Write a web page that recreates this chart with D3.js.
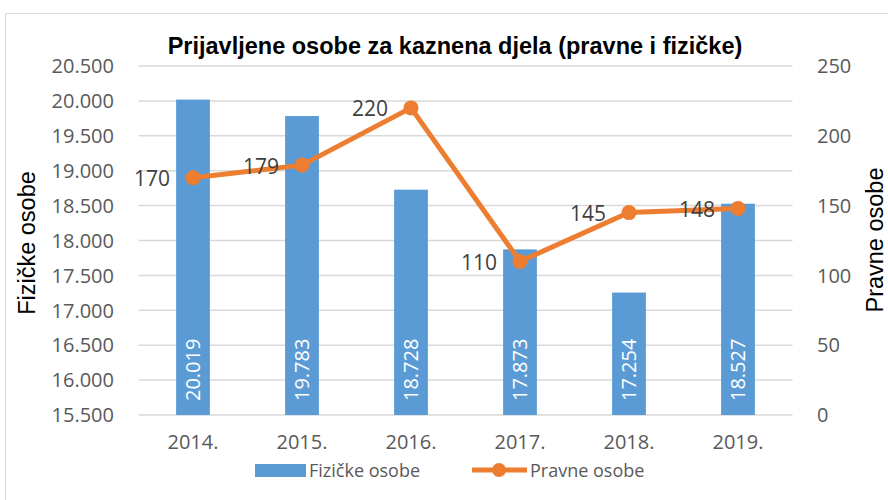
<!DOCTYPE html>
<html>
<head>
<meta charset="utf-8">
<script src="https://cdn.jsdelivr.net/npm/d3@7"></script>
<style>
  body { margin: 0; background: #fff; }
  svg { font-family: "Open Sans", "Liberation Sans", Arial, sans-serif; }
</style>
</head>
<body>
<script>
const years = ["2014.", "2015.", "2016.", "2017.", "2018.", "2019."];
const fizicke = [20019, 19783, 18728, 17873, 17254, 18527];
const pravne = [170, 179, 220, 110, 145, 148];
const leftTicks = [15500, 16000, 16500, 17000, 17500, 18000, 18500, 19000, 19500, 20000, 20500];
const rightTicks = [0, 50, 100, 150, 200, 250];

const w = 888, h = 500;
const m = { top: 66, right: 95.5, bottom: 85, left: 138.5 };

const svg = d3.select("body").append("svg")
    .attr("width", w)
    .attr("height", h);

// chart frame
svg.append("rect")
    .attr("x", 5.5).attr("y", 13.5)
    .attr("width", w + 20).attr("height", h + 20)
    .attr("fill", "none").attr("stroke", "#d9d9d9");

const x = d3.scaleBand().domain(years).range([m.left, w - m.right])
    .paddingInner(0.69).paddingOuter(0.345);
const yL = d3.scaleLinear().domain([15500, 20500]).range([h - m.bottom, m.top]);
const yR = d3.scaleLinear().domain([0, 250]).range([h - m.bottom, m.top]);
const fmt = d3.format(",");
const dot = v => fmt(v).replace(/,/g, ".");
const cx = i => x(years[i]) + x.bandwidth() / 2;

// gridlines
svg.append("g").selectAll("line").data(leftTicks).join("line")
    .attr("x1", m.left).attr("x2", w - m.right)
    .attr("y1", d => yL(d)).attr("y2", d => yL(d))
    .attr("stroke", "#d9d9d9").attr("stroke-width", 1.5);

// left ticks
svg.append("g").selectAll("text").data(leftTicks).join("text")
    .attr("x", 114).attr("y", d => yL(d)).attr("dy", "0.36em")
    .attr("text-anchor", "end").attr("fill", "#595959").attr("font-size", 20)
    .text(d => dot(d));

// right ticks
svg.append("g").selectAll("text").data(rightTicks).join("text")
    .attr("x", 817).attr("y", d => yR(d)).attr("dy", "0.36em")
    .attr("fill", "#595959").attr("font-size", 20)
    .text(d => d);

// x labels
svg.append("g").selectAll("text").data(years).join("text")
    .attr("x", d => x(d) + x.bandwidth() / 2).attr("y", 449)
    .attr("text-anchor", "middle").attr("fill", "#595959").attr("font-size", 20)
    .text(d => d);

// bars
svg.append("g").selectAll("rect").data(fizicke).join("rect")
    .attr("x", (d, i) => x(years[i]))
    .attr("width", x.bandwidth())
    .attr("y", d => yL(d))
    .attr("height", d => yL(15500) - yL(d))
    .attr("fill", "#5b9bd5");

// bar labels
svg.append("g").selectAll("text").data(fizicke).join("text")
    .attr("transform", (d, i) => `translate(${cx(i)},${yL(15500) - 14}) rotate(-90)`)
    .attr("dy", "0.36em")
    .attr("fill", "#fff").attr("font-size", 20)
    .text(d => dot(d));

// line
const line = d3.line()
    .x((d, i) => cx(i))
    .y(d => yR(d));
svg.append("path").datum(pravne)
    .attr("d", line)
    .attr("fill", "none").attr("stroke", "#ed7d31").attr("stroke-width", 5)
    .attr("stroke-linejoin", "round");
svg.append("g").selectAll("circle").data(pravne).join("circle")
    .attr("cx", (d, i) => cx(i))
    .attr("cy", d => yR(d))
    .attr("r", 7.5)
    .attr("fill", "#ed7d31");

// line labels
svg.append("g").selectAll("text").data(pravne).join("text")
    .attr("x", (d, i) => cx(i) - 23)
    .attr("y", d => yR(d) + 1)
    .attr("dy", "0.36em")
    .attr("text-anchor", "end").attr("fill", "#404040").attr("font-size", 21)
    .text(d => d);

// title
svg.append("text")
    .attr("x", 455).attr("y", 54)
    .attr("text-anchor", "middle").attr("font-size", 23.5).attr("font-weight", "bold")
    .attr("font-family", "Liberation Sans, Arial, sans-serif")
    .text("Prijavljene osobe za kaznena djela (pravne i fizičke)");

// axis titles
svg.append("text")
    .attr("transform", "translate(35,243) rotate(-90)")
    .attr("text-anchor", "middle").attr("font-size", 23.5)
    .attr("font-family", "Liberation Sans, Arial, sans-serif")
    .text("Fizičke osobe");
svg.append("text")
    .attr("transform", "translate(883,240) rotate(-90)")
    .attr("text-anchor", "middle").attr("font-size", 23.5)
    .attr("font-family", "Liberation Sans, Arial, sans-serif")
    .text("Pravne osobe");

// legend
const lg = svg.append("g").attr("font-size", 18);
lg.append("rect").attr("x", 255).attr("y", 464).attr("width", 51).attr("height", 13).attr("fill", "#5b9bd5");
lg.append("text").attr("x", 309).attr("y", 471).attr("dy", "0.36em").attr("fill", "#595959").text("Fizičke osobe");
lg.append("line").attr("x1", 472).attr("x2", 527).attr("y1", 470).attr("y2", 470)
    .attr("stroke", "#ed7d31").attr("stroke-width", 5);
lg.append("circle").attr("cx", 499).attr("cy", 470).attr("r", 7).attr("fill", "#ed7d31");
lg.append("text").attr("x", 530).attr("y", 471).attr("dy", "0.36em").attr("fill", "#595959").text("Pravne osobe");
</script>
</body>
</html>
